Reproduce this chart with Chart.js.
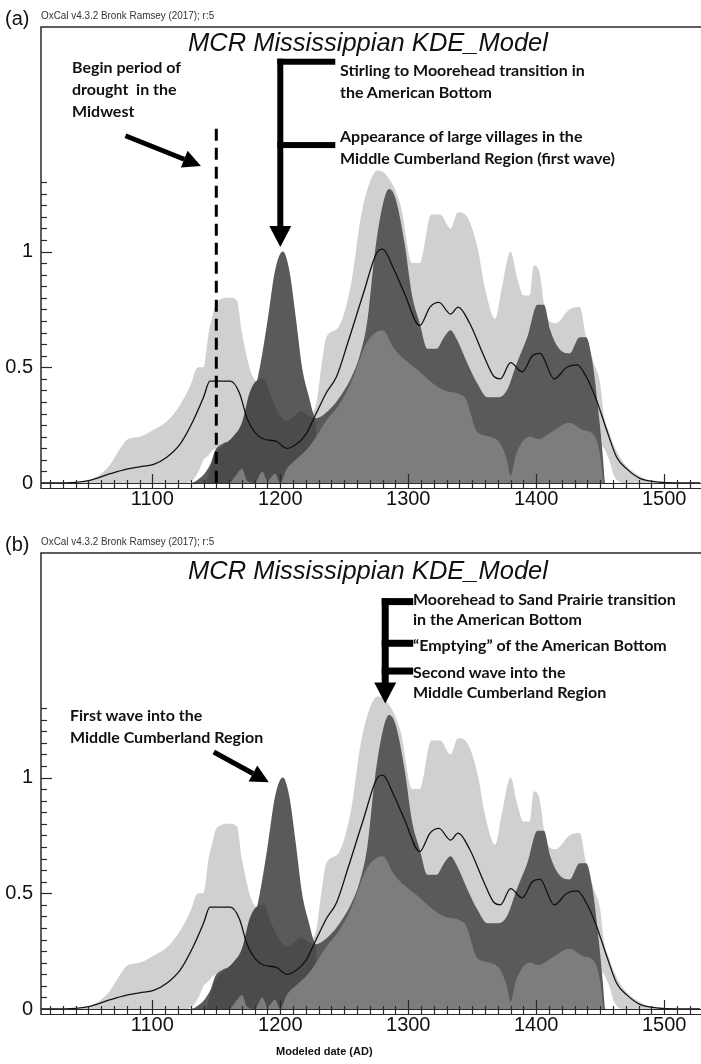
<!DOCTYPE html>
<html>
<head>
<meta charset="utf-8">
<script src="https://cdn.jsdelivr.net/npm/chart.js@4.4.0/dist/chart.umd.min.js"></script>
<style>
  body { margin: 0; background: #fff; }
  #page { position: relative; width: 701px; height: 1064px; overflow: hidden; font-family: "Liberation Sans", Arial, sans-serif; color: #111; }
  canvas { position: absolute; left: 0; }
  .t { position: absolute; white-space: nowrap; line-height: 1; }
  .hdr { position: absolute; white-space: nowrap; line-height: 1; font-size: 11.5px; color: #333; transform: scaleX(0.86); transform-origin: left top; }
  .note { position: absolute; white-space: nowrap; font-family: Lato, "Open Sans", sans-serif; font-weight: 700; font-size: 16px; line-height: 22px; color: #111; }
</style>
</head>
<body>
<div id="page">
  <canvas id="chartA" width="701" height="526" style="top:0"></canvas>
  <canvas id="chartB" width="701" height="526" style="top:526px"></canvas>

  <!-- panel a -->
  <div class="t" style="left:5px;top:8px;font-size:20px;">(a)</div>
  <div class="hdr" style="left:41px;top:10px;">OxCal v4.3.2 Bronk Ramsey (2017); r:5</div>
  <div class="t" style="left:188px;top:30px;font-size:25.5px;font-style:italic;">MCR Mississippian KDE_Model</div>
  <div class="note" style="left:72px;top:56px;">Begin period of<br>drought&nbsp; in the<br>Midwest</div>
  <div class="note" style="left:340px;top:59px;">Stirling to Moorehead transition in<br>the American Bottom</div>
  <div class="note" style="left:340px;top:125px;">Appearance of large villages in the<br>Middle Cumberland Region (first wave)</div>

  <!-- panel b -->
  <div class="t" style="left:5px;top:534px;font-size:20px;">(b)</div>
  <div class="hdr" style="left:41px;top:536px;">OxCal v4.3.2 Bronk Ramsey (2017); r:5</div>
  <div class="t" style="left:188px;top:558px;font-size:25.5px;font-style:italic;">MCR Mississippian KDE_Model</div>
  <div class="note" style="left:413px;top:589px;line-height:20px;">Moorehead to Sand Prairie transition<br>in the American Bottom</div>
  <div class="note" style="left:413px;top:635px;line-height:20px;">“Emptying” of the American Bottom</div>
  <div class="note" style="left:413px;top:662px;line-height:20px;">Second wave into the<br>Middle Cumberland Region</div>
  <div class="note" style="left:70px;top:704px;">First wave into the<br>Middle Cumberland Region</div>
  <div class="t" style="left:276px;top:1046px;font-size:11px;font-weight:bold;">Modeled date (AD)</div>
</div>

<script>
// light grey band (KDE envelope): upper and lower bounds
const lightYears = [1013, 1040, 1050, 1060, 1067, 1075, 1081, 1090, 1101, 1110,
  1117, 1127, 1131, 1134, 1137, 1140, 1144, 1147, 1150, 1160,
  1166, 1170, 1177, 1185, 1195, 1205, 1215, 1222, 1228, 1232,
  1236, 1245, 1255, 1263, 1270, 1276, 1283, 1294, 1303, 1309,
  1318, 1325, 1333, 1339, 1346, 1354, 1360, 1368, 1373, 1380,
  1385, 1390, 1395, 1398, 1402, 1408, 1415, 1426, 1434, 1439,
  1445, 1450, 1453, 1457, 1461, 1468, 1478, 1489, 1500, 1528];
const lightHigh = [0, 0, 0.01, 0.04, 0.08, 0.15, 0.19, 0.2, 0.23, 0.26,
  0.3, 0.39, 0.44, 0.49, 0.5, 0.5, 0.65, 0.72, 0.78, 0.80,
  0.79, 0.65, 0.48, 0.42, 0.36, 0.3, 0.28, 0.29, 0.34, 0.5,
  0.63, 0.67, 0.85, 1.15, 1.3, 1.35, 1.33, 1.2, 0.95, 0.95,
  1.16, 1.16, 1.1, 1.17, 1.15, 1.02, 0.84, 0.71, 0.84, 1.0,
  0.89, 0.81, 0.81, 0.94, 0.92, 0.72, 0.69, 0.75, 0.76, 0.63,
  0.52, 0.43, 0.29, 0.22, 0.16, 0.09, 0.04, 0.01, 0, 0];
const lightLow = [0, 0, 0, 0, 0, 0, 0, 0, 0, 0,
  0, 0, 0.01, 0.03, 0.06, 0.1, 0.12, 0.14, 0.15, 0.15,
  0.15, 0.15, 0.15, 0.15, 0.15, 0.15, 0.15, 0.15, 0.15, 0.15,
  0.15, 0.15, 0.15, 0.15, 0.15, 0.15, 0.15, 0.15, 0.15, 0.15,
  0.15, 0.15, 0.15, 0.15, 0.15, 0.15, 0.15, 0.15, 0.15, 0.15,
  0.15, 0.15, 0.15, 0.15, 0.15, 0.15, 0.15, 0.15, 0.15, 0.15,
  0.15, 0.16, 0.15, 0.1, 0.03, 0, 0, 0, 0, 0];

// dark grey summed distribution
const darkYears = [1013, 1130, 1137, 1142, 1146, 1149, 1155, 1165, 1172, 1178,
  1184, 1190, 1196, 1202, 1207, 1212, 1217, 1222, 1228, 1235,
  1245, 1255, 1262, 1268, 1274, 1280, 1285, 1290, 1297, 1303,
  1309, 1315, 1322, 1328, 1333, 1338, 1346, 1354, 1362, 1370,
  1377, 1385, 1393, 1401, 1406, 1411, 1418, 1426, 1434, 1439,
  1444, 1449, 1452, 1454, 1528];
const darkTop = [0, 0, 0.02, 0.05, 0.09, 0.14, 0.17, 0.19, 0.25, 0.35,
  0.5, 0.7, 0.92, 1.0, 0.92, 0.72, 0.5, 0.38, 0.28, 0.3,
  0.36, 0.45, 0.55, 0.7, 1.0, 1.2, 1.27, 1.23, 1.04, 0.81,
  0.69, 0.58, 0.58, 0.63, 0.66, 0.62, 0.52, 0.43, 0.37, 0.37,
  0.40, 0.52, 0.63, 0.77, 0.77, 0.66, 0.58, 0.56, 0.63, 0.63,
  0.52, 0.29, 0.12, 0, 0];

// darker band under the 1200 peak
const bandYears = [1142, 1149, 1155, 1163, 1170, 1176, 1181, 1187, 1193, 1199, 1205, 1211, 1216, 1222, 1228];
const bandTop = [0, 0.12, 0.16, 0.2, 0.26, 0.39, 0.44, 0.45, 0.37, 0.3, 0.27, 0.29, 0.31, 0.29, 0.27];

// medium grey base
const midYears = [1013, 1160, 1165, 1170, 1174, 1180, 1186, 1190, 1196, 1200,
  1205, 1212, 1220, 1228, 1236, 1245, 1255, 1268, 1280, 1289,
  1307, 1328, 1344, 1354, 1364, 1372, 1377, 1380, 1384, 1395,
  1402, 1412, 1426, 1436, 1446, 1450, 1453, 1528];
const midTop = [0, 0, 0.03, 0.06, 0.01, 0, 0.05, 0.01, 0.04, 0,
  0.06, 0.1, 0.14, 0.2, 0.27, 0.33, 0.43, 0.61, 0.66, 0.58,
  0.49, 0.40, 0.37, 0.22, 0.20, 0.17, 0.1, 0.03, 0.12, 0.2,
  0.19, 0.22, 0.26, 0.23, 0.2, 0.12, 0, 0];

// black mean KDE line
const meanYears = [1013, 1040, 1050, 1067, 1080, 1090, 1101, 1111, 1122, 1132,
  1140, 1145, 1153, 1161, 1168, 1174, 1180, 1187, 1197, 1205,
  1213, 1220, 1228, 1236, 1244, 1253, 1265, 1276, 1280, 1289,
  1297, 1309, 1317, 1324, 1333, 1339, 1348, 1359, 1367, 1372,
  1380, 1389, 1397, 1403, 1414, 1424, 1432, 1439, 1447, 1455,
  1463, 1471, 1481, 1494, 1510, 1528];
const meanVals = [0, 0.003, 0.01, 0.04, 0.06, 0.07, 0.08, 0.11, 0.17, 0.27,
  0.37, 0.44, 0.44, 0.44, 0.39, 0.28, 0.22, 0.19, 0.18, 0.15,
  0.17, 0.21, 0.3, 0.39, 0.46, 0.61, 0.82, 1.0, 1.01, 0.92,
  0.82, 0.68, 0.76, 0.78, 0.73, 0.76, 0.69, 0.55, 0.46, 0.45,
  0.52, 0.48, 0.55, 0.56, 0.45, 0.50, 0.51, 0.46, 0.36, 0.23,
  0.11, 0.06, 0.02, 0.005, 0, 0];

const xTicks = [1100, 1200, 1300, 1400, 1500];
const yTicks = [0, 0.5, 1];

function pts(xs, ys) { return xs.map((x, i) => ({ x: x, y: ys[i] })); }

function drawArrow(ctx, x1, y1, x2, y2, w, hl, hw) {
  const ang = Math.atan2(y2 - y1, x2 - x1);
  const bx = x2 - hl * Math.cos(ang), by = y2 - hl * Math.sin(ang);
  ctx.lineWidth = w;
  ctx.beginPath(); ctx.moveTo(x1, y1); ctx.lineTo(bx, by); ctx.stroke();
  const px = Math.sin(ang) * hw / 2, py = -Math.cos(ang) * hw / 2;
  ctx.beginPath();
  ctx.moveTo(x2, y2); ctx.lineTo(bx + px, by + py); ctx.lineTo(bx - px, by - py);
  ctx.closePath(); ctx.fill();
}

const frame = {
  id: 'frame',
  afterDraw(chart) {
    const { ctx, chartArea: a, scales: { x, y } } = chart;
    ctx.save();
    ctx.strokeStyle = '#2a2a2a';
    ctx.lineWidth = 1.5;
    ctx.beginPath();
    ctx.moveTo(a.left, a.bottom + 6); ctx.lineTo(a.left, a.top); ctx.lineTo(a.right + 1, a.top);
    ctx.stroke();
    // y ticks pointing inwards
    ctx.lineWidth = 1.2;
    for (let k = 1; k <= 26; k++) {
      const py = Math.round(y.getPixelForValue(k * 0.05)) + 0.5;
      const len = k % 10 === 0 ? 11 : 6;
      ctx.beginPath(); ctx.moveTo(a.left, py); ctx.lineTo(a.left + len, py); ctx.stroke();
    }
    // ruler style x axis
    const y0 = a.bottom;
    ctx.beginPath();
    ctx.moveTo(a.left, y0 + 0.5); ctx.lineTo(a.right + 1, y0 + 0.5);
    ctx.moveTo(a.left, y0 + 5.5); ctx.lineTo(a.right + 1, y0 + 5.5);
    ctx.stroke();
    for (let yr = 1020; yr <= 1520; yr += 10) {
      const px = Math.round(x.getPixelForValue(yr)) + 0.5;
      const up = yr % 100 === 0 ? 9 : 3;
      ctx.beginPath(); ctx.moveTo(px, y0 - up); ctx.lineTo(px, y0 + 5.5); ctx.stroke();
    }
    ctx.restore();
  }
};

const notes = {
  id: 'notes',
  afterDraw(chart, args, o) {
    const { ctx, scales: { x, y } } = chart;
    ctx.save();
    ctx.fillStyle = '#000'; ctx.strokeStyle = '#000';
    if (o.dashYear) {
      ctx.lineWidth = 3;
      ctx.setLineDash([12, 7]);
      const px = x.getPixelForValue(o.dashYear);
      ctx.beginPath(); ctx.moveTo(px, y.getPixelForValue(o.dashTop)); ctx.lineTo(px, y.getPixelForValue(0)); ctx.stroke();
      ctx.setLineDash([]);
    }
    (o.arrows || []).forEach(ar => {
      drawArrow(ctx, x.getPixelForValue(ar[0]), y.getPixelForValue(ar[1]),
        x.getPixelForValue(ar[2]), y.getPixelForValue(ar[3]), 5, 18, 18);
    });
    if (o.bracket) {
      const b = o.bracket, w = b.width;
      const bx = x.getPixelForValue(b.year);
      const top = y.getPixelForValue(b.top) - w / 2;
      const tip = y.getPixelForValue(b.tip);
      const hl = 21, hw = 22;
      ctx.fillRect(bx - w / 2, top, w, tip - hl - top + 1);
      b.bars.forEach(v => {
        const py = y.getPixelForValue(v);
        ctx.fillRect(bx - w / 2, py - w / 2, b.len + w / 2, w);
      });
      ctx.beginPath();
      ctx.moveTo(bx, tip); ctx.lineTo(bx - hw / 2, tip - hl); ctx.lineTo(bx + hw / 2, tip - hl);
      ctx.closePath(); ctx.fill();
    }
    ctx.restore();
  }
};

const none = 'rgba(0,0,0,0)';

function makeChart(id, noteOpts) {
  return new Chart(document.getElementById(id), {
    type: 'line',
    data: {
      datasets: [
        { label: 'mean', data: pts(meanYears, meanVals), borderColor: '#111', borderWidth: 1.3, fill: false },
        { label: 'mid', data: pts(midYears, midTop), borderColor: none, borderWidth: 0, backgroundColor: '#7d7d7d', fill: 'origin' },
        { label: 'band', data: pts(bandYears, bandTop), borderColor: none, borderWidth: 0, backgroundColor: '#4b4b4b', fill: 'origin' },
        { label: 'sum', data: pts(darkYears, darkTop), borderColor: none, borderWidth: 0, backgroundColor: '#5a5a5a', fill: 'origin' },
        { label: 'kdeHigh', data: pts(lightYears, lightHigh), borderColor: none, borderWidth: 0, backgroundColor: '#d0d0d0', fill: '+1' },
        { label: 'kdeLow', data: pts(lightYears, lightLow), borderColor: none, borderWidth: 0, fill: false }
      ]
    },
    options: {
      responsive: false,
      animation: false,
      devicePixelRatio: 1,
      layout: { padding: { top: 27, right: 1, left: 0, bottom: 0 } },
      elements: { point: { radius: 0 }, line: { cubicInterpolationMode: 'monotone' } },
      plugins: { legend: { display: false }, tooltip: { enabled: false }, notes: noteOpts },
      scales: {
        x: {
          type: 'linear', min: 1013, max: 1528,
          grid: { display: false, drawTicks: false }, border: { display: false },
          afterBuildTicks: s => { s.ticks = xTicks.map(v => ({ value: v })); },
          afterFit: s => { s.height = 43; },
          ticks: { font: { family: 'Liberation Sans', size: 20 }, color: '#111', padding: 4, maxRotation: 0, autoSkip: false, callback: v => String(v) }
        },
        y: {
          min: 0, max: 1.97,
          grid: { display: false, drawTicks: false }, border: { display: false },
          afterBuildTicks: s => { s.ticks = yTicks.map(v => ({ value: v })); },
          afterFit: s => { s.width = 41; },
          ticks: { font: { family: 'Liberation Sans', size: 20 }, color: '#111', padding: 8, callback: v => String(v) }
        }
      }
    },
    plugins: [frame, notes]
  });
}

makeChart('chartA', {
  dashYear: 1150, dashTop: 1.53,
  arrows: [[1079, 1.50, 1138, 1.37]],
  bracket: { year: 1200, top: 1.82, bars: [1.82, 1.46], len: 55, tip: 1.02, width: 6 }
});

makeChart('chartB', {
  arrows: [[1148, 1.11, 1191, 0.98]],
  bracket: { year: 1282, top: 1.76, bars: [1.76, 1.58, 1.46], len: 28, tip: 1.32, width: 7 }
});
</script>
</body>
</html>
